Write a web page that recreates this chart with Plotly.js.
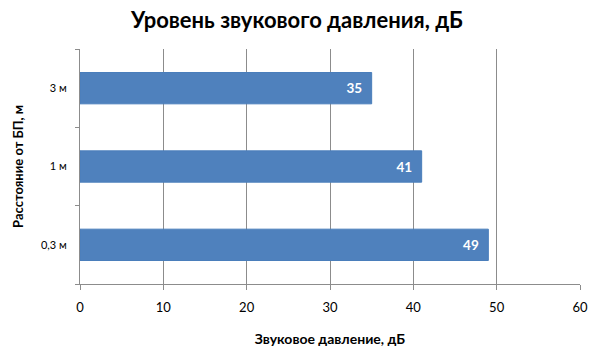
<!DOCTYPE html>
<html><head><meta charset="utf-8">
<script src="https://cdn.plot.ly/plotly-3.0.1.min.js"></script>
<style>body{margin:0}#c{width:600px;height:360px}</style>
</head><body><div id="c"></div>
<script>
const categories = ["0,3 м", "1 м", "3 м"];
const values = [49, 41, 35];
const xTicks = [0, 10, 20, 30, 40, 50, 60];

const font = "Lato, Carlito, 'Noto Sans', sans-serif";
Plotly.newPlot('c', [{
  type: 'bar', orientation: 'h',
  y: categories, x: values,
  marker: {color: '#4F81BD', line: {color: '#4A7EBB', width: 1}},
  text: values.map(v => String(v) + '\u00a0\u00a0'), textposition: 'inside', insidetextanchor: 'end',
  textfont: {color: '#ffffff', size: 13.5, family: font, weight: 'bold'},
  hoverinfo: 'none'
}], {
  width: 600, height: 360,
  margin: {l: 80, r: 20, t: 49, b: 76},
  paper_bgcolor: '#ffffff', plot_bgcolor: '#ffffff',
  bargap: 0.6,
  showlegend: false,
  font: {family: font, color: '#000000'},
  title: {text: '<b>Уровень звукового давления, дБ</b>', x: 0.495, xanchor: 'center', y: 0.945, yanchor: 'middle',
    font: {size: 22, family: font, color: '#000000'}},
  xaxis: {range: [0, 60], tickvals: xTicks, ticktext: xTicks.map(String),
    showgrid: true, gridcolor: '#8c8c8c', gridwidth: 1,
    showline: true, linecolor: '#8c8c8c', ticks: 'outside', ticklen: 5, tickcolor: '#8c8c8c',
    ticklabelstandoff: 6,
    tickfont: {size: 13, family: font}, zeroline: false, fixedrange: true,
    title: {text: '<b>Звуковое давление, дБ</b>', font: {size: 14, family: font}, standoff: 20}},
  yaxis: {type: 'category', categoryarray: categories, showgrid: false,
    showline: true, linecolor: '#8c8c8c', ticks: 'outside', tickson: 'boundaries', ticklen: 4, tickcolor: '#8c8c8c',
    tickfont: {size: 11, family: font}, ticklabelstandoff: 10, fixedrange: true,
    title: {text: '<b>Расстояние от БП, м</b>', font: {size: 13, family: font}, standoff: 14}}
}, {displayModeBar: false, staticPlot: true});
</script></body></html>
